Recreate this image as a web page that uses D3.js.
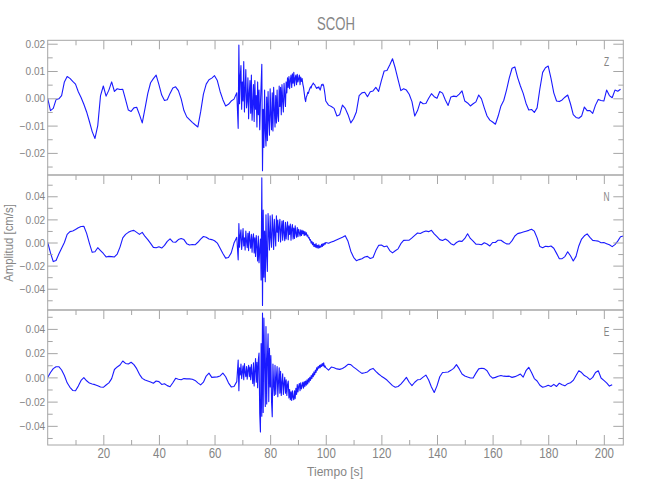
<!DOCTYPE html>
<html><head><meta charset="utf-8">
<script src="https://cdn.jsdelivr.net/npm/d3@7"></script>
<style>
body{margin:0;background:#fff}
text{font-family:"Liberation Sans",Arial,sans-serif;fill:#858585}
</style>
</head><body>
<svg id="chart" width="650" height="500"></svg>
<script>
// ---------------- DATA ----------------
const chartTitle = "SCOH";
const xLabel = "Tiempo [s]";
const yLabel = "Amplitud [cm/s]";
const components = ["Z", "N", "E"];
const xMajorTicks = [20, 40, 60, 80, 100, 120, 140, 160, 180, 200];
const xMinorTicks = [10, 30, 50, 70, 90, 110, 130, 150, 170, 190];
const zMajorTicks = [0.02, 0.01, 0.00, -0.01, -0.02];
const zMinorTicks = [0.015, 0.005, -0.005, -0.015, -0.025];
const neMajorTicks = [0.04, 0.02, 0.00, -0.02, -0.04];
const neMinorTicks = [0.05, 0.03, 0.01, -0.01, -0.03, -0.05];
const timeDomain = [0, 207];
const zDomain = [-0.0281, 0.02125];
const nDomain = [-0.0584, 0.0584];
const eDomain = [-0.0558, 0.0556];

// sampling of the three pieces of each trace (s)
const preStart = 0, preStep = 1;
const burstStart = 68.5, burstStep = 0.25;
const postStart = 101, postStep = 1;

// Z component (cm/s)
const zPre = [0,-0.0045,-0.0037,-0.0005,-0.0002,0.001,0.006,0.008,0.0073,0.0062,0.0052,0.0024,0.0003,-0.0022,-0.005,-0.0085,-0.0122,-0.0147,-0.01,0.001,0.0045,0.0008,0.003,0.006,0.0025,0.0035,0.0032,0.0033,-0.0005,-0.0043,-0.0048,-0.0035,-0.0033,-0.006,-0.009,-0.0037,0.0018,0.0057,0.0072,0.0085,0.005,0.0012,-0.0008,-0.0005,0.0018,0.0038,0.0042,0.0028,-0.0002,-0.0045,-0.0068,-0.0078,-0.0088,-0.0097,-0.0105,-0.005,0.0015,0.0052,0.0068,0.0074,0.0083,0.0065,0.0025,-0.0005,-0.0028,-0.0022,-0.001,-0.0003,0.002];
const zBurst = [-0.011,0.0195,-0.002,0.008,0.012,-0.004,0.006,-0.001,0.0135,-0.005,0.003,0.0105,-0.0035,-0.001,0.0075,-0.0075,0.002,0.0065,-0.0055,0.0085,-0.008,-0.002,0.005,-0.0085,0.0065,-0.004,0.001,-0.0105,0.006,-0.006,0.003,-0.0115,-0.002,0.005,0.0125,-0.0265,-0.004,-0.018,0.003,-0.012,-0.0175,0.0005,-0.0155,0.0025,-0.008,-0.0135,0.0035,-0.006,-0.0115,0.002,-0.012,0.004,-0.004,-0.0105,0.001,-0.009,0.003,-0.0065,-0.0085,0.0045,-0.003,0.004,-0.006,0.005,-0.001,-0.005,0.0055,0.001,-0.003,0.006,0.002,0.0075,0.004,0.008,0.0035,0.0065,0.0085,0.004,0.009,0.0055,0.0095,0.0045,0.0075,0.0085,0.005,0.0088,0.006,0.0072,0.0085,0.005,0.0078,0.0062,0.0072,0.0052,0.004,0.002,0,-0.0012,0.0005,0.001,0.0022,0.0018,0.0028,0.0035,0.0042,0.0038,0.0048,0.005,0.0056,0.0052,0.005,0.0044,0.004,0.0036,0.004,0.0038,0.0042,0.0035,0.003,0.004,0.005,0.0048,0.0052,0.0045,0.003,0.0012,-0.001];
const zPost = [-0.0025,-0.003,-0.0037,-0.0065,-0.006,-0.0025,-0.0037,-0.006,-0.009,-0.0075,-0.005,0.001,0.002,0.0022,0.0006,0.0024,0.0027,0.004,0.0025,0.0065,0.01,0.0102,0.0122,0.0145,0.011,0.0068,0.0028,0.0035,0.003,0.0015,-0.0012,-0.0065,-0.0045,-0.0012,-0.002,-0.0019,0,0.0017,0.0006,0,0.0025,0.0019,-0.0006,-0.0026,0.0005,0.0008,0.0006,0.0015,0.0027,-0.001,-0.0017,-0.0028,-0.002,-0.0013,0.0012,-0.0002,-0.0035,-0.0065,-0.008,-0.0087,-0.0095,-0.0065,-0.0028,-0.0008,0.003,0.0075,0.011,0.0115,0.0076,0.0045,0.0018,-0.0018,-0.0043,-0.0041,-0.0052,-0.0035,0.0035,0.0095,0.0112,0.0118,0.0073,0.002,-0.001,-0.0012,-0.0006,0.0004,0.0012,-0.002,-0.006,-0.007,-0.0073,-0.0065,-0.0032,-0.0045,-0.0045,-0.0055,-0.0025,-0.0004,-0.0008,-0.001,0.003,0.001,0.0002,0.003,0.0026,0.0033];

// N component (cm/s)
const nPre = [0,-0.009,-0.0165,-0.0155,-0.01,-0.005,0,0.007,0.0094,0.01,0.0112,0.0127,0.0138,0.014,0.0079,-0.0007,-0.0085,-0.008,-0.0045,-0.007,-0.0095,-0.0125,-0.012,-0.0122,-0.0125,-0.01,-0.004,0.004,0.007,0.0088,0.01,0.0105,0.0088,0.007,0.0088,0.0052,0.0025,-0.0008,-0.0042,-0.0045,-0.0037,-0.0048,-0.0025,0.001,0.0032,0.0005,0.0002,0.0025,0.0035,0.0025,-0.001,-0.0022,-0.0018,-0.002,0.0002,0.003,0.0052,0.0045,0.003,0.0025,0.0015,-0.0005,-0.005,-0.0095,-0.0135,-0.013,-0.009,-0.0005,0.0045];
const nBurst = [-0.015,0.0165,-0.004,0.006,0.011,-0.006,0.002,0.012,-0.003,0.004,-0.0065,0.01,0.001,-0.0045,0.008,-0.007,0.0095,0.002,-0.005,0.007,-0.0085,0.0035,0.0075,-0.009,0.004,-0.012,0.006,-0.004,-0.016,0.0055,-0.0175,-0.006,0.003,-0.0325,0.056,-0.0545,0.028,-0.03,0.01,-0.034,0.024,-0.012,-0.025,0.025,0.008,-0.0065,0.023,0.004,-0.004,0.024,0.012,-0.006,0.02,0.007,-0.003,0.023,0.009,0.0195,0.001,0.014,0.02,0.0005,0.011,0.0185,0.002,0.019,0.008,0.0015,0.0175,0.003,0.012,0.018,0.0025,0.0145,0.007,0.016,0.002,0.012,0.0155,0.003,0.0125,0.0035,0.0145,0.008,0.0045,0.013,0.005,0.0115,0.0085,0.0055,0.011,0.006,0.0105,0.0075,0.01,0.006,0.0095,0.0065,0.0085,0.0055,0.0065,0.004,0.0045,0.002,0.0025,-0.0005,0.001,-0.002,0,-0.0035,-0.0015,-0.004,-0.001,-0.0045,-0.0025,-0.005,-0.002,-0.0045,-0.003,-0.004,-0.0015,-0.0035,-0.001,-0.0025,-0.0005,-0.0015,0];
const nPost = [-0.0007,0.0005,0.0012,0.0024,0.0035,0.0045,0.0059,0.001,-0.0075,-0.0128,-0.0157,-0.0148,-0.014,-0.0125,-0.012,-0.0138,-0.013,-0.007,-0.0025,-0.0022,-0.0036,-0.003,-0.007,-0.009,-0.0071,-0.0055,-0.001,0.0018,0.002,0.002,0.004,0.0062,0.0082,0.0078,0.009,0.01,0.0094,0.0105,0.0075,0.005,0.0025,0.0017,0.003,0.0015,-0.001,-0.0022,0,0.0012,0.001,0.0035,0.0075,0.0035,0.0012,-0.0015,-0.0015,-0.002,-0.0002,-0.0013,-0.003,0,0,0.002,0.002,0.0002,-0.0012,-0.0013,0.0016,0.0056,0.0077,0.0083,0.0091,0.0098,0.0105,0.0115,0.0098,0.004,-0.0035,-0.0045,-0.0032,-0.0036,-0.003,-0.005,-0.0094,-0.014,-0.014,-0.0122,-0.008,-0.0115,-0.016,-0.012,-0.003,0.003,0.0058,0.0075,0.0045,0.0018,0.0015,0.0012,-0.0002,0,-0.001,-0.002,-0.0036,-0.0018,0.0012,0.005,0.0056];

// E component (cm/s)
const ePre = [0,0.004,0.0072,0.0088,0.0088,0.0061,0.0015,-0.0045,-0.0082,-0.0108,-0.011,-0.0072,-0.0025,-0.0002,-0.0028,-0.0047,-0.0054,-0.006,-0.007,-0.008,-0.0082,-0.0063,-0.0045,-0.001,0.0065,0.0086,0.0102,0.0135,0.0115,0.011,0.0125,0.0105,0.0072,0.0025,-0.0008,-0.0022,-0.003,-0.0038,-0.0048,-0.003,-0.0035,-0.0058,-0.0052,-0.0068,-0.0077,-0.0044,-0.0008,-0.0015,-0.002,-0.001,-0.0012,-0.0012,-0.0015,-0.0025,-0.0045,-0.0062,-0.004,0.0011,0.0035,0,0.0002,0.0004,0.0012,0.0035,0.0005,-0.0045,-0.0078,-0.0075,-0.0035];
const eBurst = [0.0143,-0.011,0.008,0.002,0.011,-0.001,0.0045,0.0095,-0.002,0.0115,0.004,0.0005,0.009,-0.0015,0.006,0.01,0.0005,0.0085,-0.002,0.0105,0.003,-0.005,0.012,-0.007,0.0055,0.0155,-0.004,0.0125,-0.0085,0.0145,0.02,-0.03,-0.045,0.028,-0.032,0.053,-0.029,0.049,0.01,-0.024,0.042,-0.022,0.015,0.036,-0.02,0.024,-0.008,0.018,-0.02,-0.0325,0.011,-0.006,-0.015,0.01,-0.014,0,0.009,-0.016,-0.004,0.008,-0.013,0.005,-0.015,-0.004,0.003,-0.014,-0.005,0,-0.013,-0.002,-0.015,-0.006,-0.003,-0.017,-0.01,-0.0185,-0.012,-0.019,-0.011,-0.0165,-0.0185,-0.011,-0.0175,-0.009,-0.014,-0.006,-0.012,-0.0075,-0.005,-0.011,-0.0045,-0.0095,-0.007,-0.004,-0.009,-0.0035,-0.0075,-0.003,-0.0065,-0.002,-0.0055,-0.001,-0.004,0,-0.0025,0.0015,-0.001,0.003,0.0005,0.0045,0.002,0.006,0.004,0.008,0.006,0.009,0.0075,0.01,0.008,0.0105,0.009,0.0115,0.0095,0.012,0.0085,0.0095,0.008];
const ePost = [0.006,0.0085,0.008,0.007,0.0066,0.0074,0.0088,0.0108,0.0105,0.0085,0.0068,0.005,0.0033,0.0038,0.0045,0.0065,0.0074,0.005,0.0028,0.001,-0.0005,-0.0022,-0.0045,-0.0068,-0.0082,-0.0075,-0.0055,-0.0028,0,-0.004,-0.0068,-0.004,-0.002,-0.0017,0.0002,0.0019,-0.0022,-0.008,-0.0125,-0.007,0.0005,0.004,0.0042,0.0045,0.0058,0.0074,0.0105,0.007,0.0028,0.0012,0.0003,-0.0005,-0.0005,0.0035,0.007,0.0075,0.0072,0.0055,0.0015,-0.0006,0,0.001,0.0016,0.001,0.0008,0.001,0,0.0006,0.0015,0.0027,0.0002,0.0055,0.0083,0.004,-0.001,-0.003,-0.0065,-0.0082,-0.0075,-0.0065,-0.0075,-0.0058,-0.0075,-0.0048,-0.006,-0.007,-0.0052,-0.0044,-0.0025,0.0015,0.0055,0.004,0.0015,0.0002,-0.0018,0,0.004,0.0055,-0.0005,-0.0025,-0.0045,-0.0072,-0.006];

// ---------------- DRAW ----------------
function toSeries(pre, burst, post) {
  const out = [];
  pre.forEach((v, i) => out.push([preStart + i * preStep, v]));
  burst.forEach((v, i) => out.push([burstStart + i * burstStep, v]));
  post.forEach((v, i) => out.push([postStart + i * postStep, v]));
  return out;
}

const panels = [
  {name: components[0], data: toSeries(zPre, zBurst, zPost), domain: zDomain, major: zMajorTicks, minor: zMinorTicks, top: 40.3, bottom: 175},
  {name: components[1], data: toSeries(nPre, nBurst, nPost), domain: nDomain, major: neMajorTicks, minor: neMinorTicks, top: 175, bottom: 310},
  {name: components[2], data: toSeries(ePre, eBurst, ePost), domain: eDomain, major: neMajorTicks, minor: neMinorTicks, top: 310, bottom: 445}
];

const left = 47.7, right = 623.3;
const axisColor = "#a6a6a6";
const svg = d3.select("#chart");
const x = d3.scaleLinear().domain(timeDomain).range([left, right]);
const defs = svg.append("defs");

function styleAxis(g) {
  g.select(".domain").remove();
  g.selectAll(".tick line").attr("stroke", axisColor).attr("stroke-width", 1);
}
// narrow the glyphs horizontally (the original uses a condensed vector font)
function condense(sel, sx) {
  sel.each(function () {
    const t = d3.select(this);
    const tx = +t.attr("x") || 0, ty = +t.attr("y") || 0;
    t.attr("x", 0).attr("y", 0).attr("transform", `translate(${tx},${ty}) scale(${sx},1)`);
  });
}

panels.forEach((p, k) => {
  const y = d3.scaleLinear().domain(p.domain).range([p.bottom, p.top]);
  const clipId = "clip" + k;
  defs.append("clipPath").attr("id", clipId)
    .append("rect").attr("x", left).attr("y", p.top).attr("width", right - left).attr("height", p.bottom - p.top);

  svg.append("path")
    .datum(p.data)
    .attr("clip-path", `url(#${clipId})`)
    .attr("fill", "none")
    .attr("stroke", "#1a1aff")
    .attr("stroke-width", 1.1)
    .attr("stroke-linejoin", "round")
    .attr("d", d3.line().x(d => x(d[0])).y(d => y(d[1])));

  svg.append("rect")
    .attr("x", left).attr("y", p.top).attr("width", right - left).attr("height", p.bottom - p.top)
    .attr("fill", "none").attr("stroke", axisColor).attr("stroke-width", 1);

  const la = svg.append("g").attr("transform", `translate(${left},0)`)
    .call(d3.axisLeft(y).tickValues(p.major).tickSize(-10).tickPadding(2.5).tickFormat(d3.format(".2f")));
  la.selectAll("text").style("font-size", "11.5px").attr("fill", "#858585");
  condense(la.selectAll("text"), 0.88);
  styleAxis(la);
  styleAxis(svg.append("g").attr("transform", `translate(${left},0)`)
    .call(d3.axisLeft(y).tickValues(p.minor).tickSize(-5).tickFormat("")));
  styleAxis(svg.append("g").attr("transform", `translate(${right},0)`)
    .call(d3.axisRight(y).tickValues(p.major).tickSize(-10).tickFormat("")));
  styleAxis(svg.append("g").attr("transform", `translate(${right},0)`)
    .call(d3.axisRight(y).tickValues(p.minor).tickSize(-5).tickFormat("")));
  styleAxis(svg.append("g").attr("transform", `translate(0,${p.top})`)
    .call(d3.axisTop(x).tickValues(xMajorTicks).tickSize(-9).tickFormat("")));
  styleAxis(svg.append("g").attr("transform", `translate(0,${p.top})`)
    .call(d3.axisTop(x).tickValues(xMinorTicks).tickSize(-5).tickFormat("")));

  svg.append("text")
    .attr("transform", `translate(606.5,${p.top + 26}) scale(0.62,1)`)
    .attr("text-anchor", "middle").style("font-size", "13.5px").text(p.name);

  if (k === panels.length - 1) {
    const ba = svg.append("g").attr("transform", `translate(0,${p.bottom})`)
      .call(d3.axisBottom(x).tickValues(xMajorTicks).tickSize(-10).tickPadding(3).tickFormat(d3.format("d")));
    ba.selectAll("text").style("font-size", "14px").attr("fill", "#858585");
    condense(ba.selectAll("text"), 0.82);
    styleAxis(ba);
    styleAxis(svg.append("g").attr("transform", `translate(0,${p.bottom})`)
      .call(d3.axisBottom(x).tickValues(xMinorTicks).tickSize(-5).tickFormat("")));
  }
});

svg.append("text").attr("transform", "translate(336,30) scale(0.71,1)").attr("text-anchor", "middle")
  .style("font-size", "18.5px").text(chartTitle);
svg.append("text").attr("transform", "translate(335,476) scale(0.93,1)").attr("text-anchor", "middle")
  .style("font-size", "13px").text(xLabel);
svg.append("text").attr("transform", "translate(12.5,243) rotate(-90) scale(0.91,1)").attr("text-anchor", "middle")
  .style("font-size", "12.5px").text(yLabel);
</script>
</body></html>
